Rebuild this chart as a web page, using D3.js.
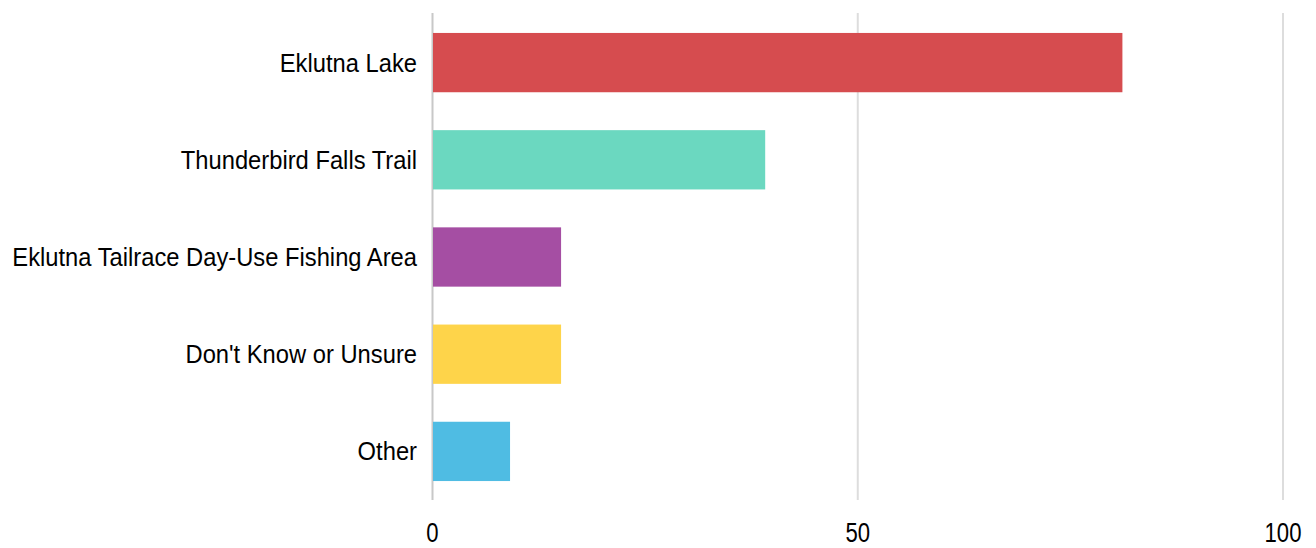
<!DOCTYPE html>
<html><head><meta charset="utf-8">
<script src="https://cdn.jsdelivr.net/npm/d3@7"></script>
<style>body{margin:0;background:#fff}svg{display:block}text{font-family:"Liberation Sans",Arial,sans-serif}</style>
</head><body>
<svg id="c" width="1316" height="548"></svg>
<script>
const categories = ["Eklutna Lake","Thunderbird Falls Trail","Eklutna Tailrace Day-Use Fishing Area","Don't Know or Unsure","Other"];
const values = [81, 39, 15, 15, 9];
const colors = ["#d64c4f","#6bd8c0","#a54ea3","#fed44a","#4fbce3"];
const ticks = [0, 50, 100];

const svg = d3.select("#c");
const x = d3.scaleLinear().domain([0,100]).range([432.5,1283]);
const y = d3.scaleBand().domain(categories).range([14,500]).paddingInner(0.39).paddingOuter(0.195);

svg.append("g").selectAll("line").data(ticks).join("line")
  .attr("x1",d=>x(d)).attr("x2",d=>x(d)).attr("y1",13).attr("y2",500)
  .attr("stroke",d=>d===0?"#c8c8c8":"#dddddd").attr("stroke-width",2);

svg.append("g").selectAll("rect").data(categories).join("rect")
  .attr("x",x(0)+0.5).attr("y",d=>y(d))
  .attr("width",(d,i)=>x(values[i])-x(0)+0.5).attr("height",y.bandwidth())
  .attr("fill",(d,i)=>colors[i]);

svg.append("g").selectAll("text").data(categories).join("text")
  .attr("transform",d=>`translate(417,${y(d)+y.bandwidth()/2+9}) scale(0.95,1)`)
  .attr("text-anchor","end").attr("font-size",25).attr("fill","#000")
  .text(d=>d);

svg.append("g").selectAll("text").data(ticks).join("text")
  .attr("transform",d=>`translate(${x(d)},542) scale(0.82,1)`)
  .attr("text-anchor","middle").attr("font-size",27).attr("fill","#000")
  .text(d=>d);
</script>
</body></html>
